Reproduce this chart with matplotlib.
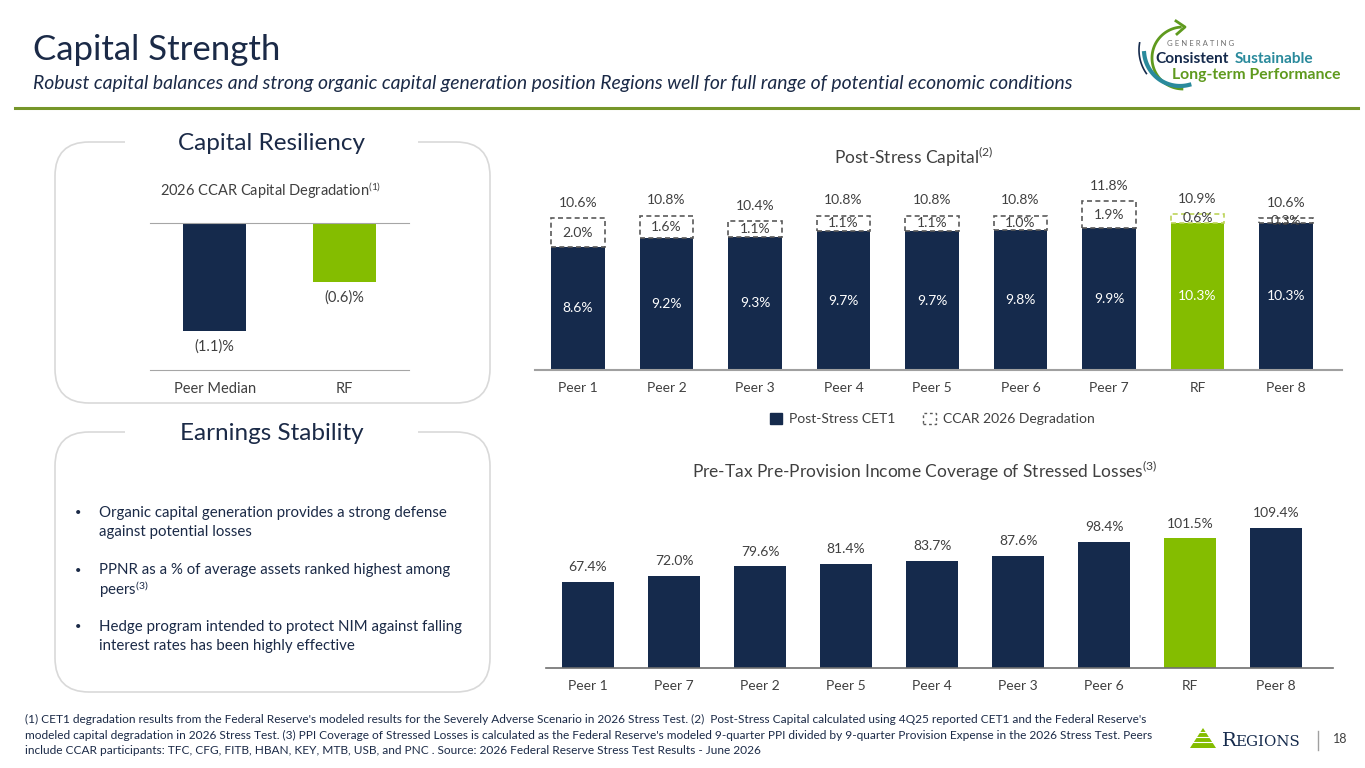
import numpy as np
import matplotlib
matplotlib.use("Agg")
import matplotlib.pyplot as plt
from matplotlib.patches import FancyBboxPatch, Rectangle, Patch, Polygon

plt.rcParams['font.family'] = ['Lato', 'DejaVu Sans']
plt.rcParams['mathtext.fontset'] = 'custom'
plt.rcParams['mathtext.rm'] = 'Lato'
plt.rcParams['mathtext.it'] = 'Lato:italic'
plt.rcParams['mathtext.bf'] = 'Lato:bold'

# ---- data ----
resil_cats = ['Peer Median', 'RF']
resil_vals = [-1.1, -0.6]

stress_cats = ['Peer 1', 'Peer 2', 'Peer 3', 'Peer 4', 'Peer 5', 'Peer 6', 'Peer 7', 'RF', 'Peer 8']
stress_cet1 = [8.6, 9.2, 9.3, 9.7, 9.7, 9.8, 9.9, 10.3, 10.3]
stress_degr = [2.0, 1.6, 1.1, 1.1, 1.1, 1.0, 1.9, 0.6, 0.3]
stress_total = [10.6, 10.8, 10.4, 10.8, 10.8, 10.8, 11.8, 10.9, 10.6]

ppi_cats = ['Peer 1', 'Peer 7', 'Peer 2', 'Peer 5', 'Peer 4', 'Peer 3', 'Peer 6', 'RF', 'Peer 8']
ppi_vals = [67.4, 72.0, 79.6, 81.4, 83.7, 87.6, 98.4, 101.5, 109.4]

bullets = [
    ['Organic capital generation provides a strong defense', 'against potential losses'],
    ['PPNR as a % of average assets ranked highest among', 'peers$^{(3)}$'],
    ['Hedge program intended to protect NIM against falling', 'interest rates has been highly effective'],
]

footnote = [
    "(1) CET1 degradation results from the Federal Reserve's modeled results for the Severely Adverse Scenario in 2026 Stress Test. (2)  Post-Stress Capital calculated using 4Q25 reported CET1 and the Federal Reserve's",
    "modeled capital degradation in 2026 Stress Test. (3) PPI Coverage of Stressed Losses is calculated as the Federal Reserve's modeled 9-quarter PPI divided by 9-quarter Provision Expense in the 2026 Stress Test. Peers",
    "include CCAR participants: TFC, CFG, FITB, HBAN, KEY, MTB, USB, and PNC . Source: 2026 Federal Reserve Stress Test Results - June 2026",
]

NAVY = '#152a4c'
GREEN = '#84bd00'
TEXT = '#1b2a47'
GREY = '#404040'

W, H = 1365, 768
fig = plt.figure(figsize=(W / 100, H / 100), dpi=100)

# background layer in pixel coordinates
bg = fig.add_axes([0, 0, 1, 1])
bg.set_xlim(0, W)
bg.set_ylim(H, 0)
bg.axis('off')


def px_axes(x0, y0, x1, y1):
    a = fig.add_axes([x0 / W, 1 - y1 / H, (x1 - x0) / W, (y1 - y0) / H])
    a.set_facecolor('none')
    return a


# header
bg.text(33, 50, 'Capital Strength', fontsize=25, color=TEXT, va='center')
bg.text(33, 84, 'Robust capital balances and strong organic capital generation position Regions well for full range of potential economic conditions',
        fontsize=13.95, style='italic', color=TEXT, va='center')
bg.plot([15, 1358], [108, 108], color='#76962a', lw=2.2)

# logo top right
t = np.radians(np.linspace(95, 268, 80))
bg.plot(1183 + 31 * np.cos(t), 58 - 31 * np.sin(t), color='#5f9a1e', lw=2)
bg.plot([1176, 1185, 1177], [21, 27, 34], color='#5f9a1e', lw=2)
t = np.radians(np.linspace(185, 285, 60))
bg.plot(1180 + 36 * np.cos(t), 50 - 36 * np.sin(t), color='#2a8a9c', lw=3)
t = np.radians(np.linspace(170, 215, 40))
bg.plot(1180 + 41 * np.cos(t), 50 - 41 * np.sin(t), color=NAVY, lw=1.2)
bg.text(1167, 44, 'G E N E R A T I N G', fontsize=5.6, color='#707070', va='center')
bg.text(1155, 59, 'Consistent', fontsize=11.1, weight='bold', color=NAVY, va='center')
bg.text(1313, 59, 'Sustainable', fontsize=11.1, weight='bold', color='#2a8a9c', va='center', ha='right')
bg.text(1341, 75, 'Long-term Performance', fontsize=11.3, weight='bold', color='#5f9a1e', va='center', ha='right')

# rounded panels
for top, bottom, title in [(142, 403, 'Capital Resiliency'), (432, 692, 'Earnings Stability')]:
    bg.add_patch(FancyBboxPatch((55, top), 435, bottom - top,
                                boxstyle='round,pad=0,rounding_size=34',
                                facecolor='none', edgecolor='#d9d9d9', lw=1.2))
    bg.add_patch(Rectangle((125, top - 6), 293, 12, facecolor='white', edgecolor='none', zorder=3))
    bg.text(272, top + 2, title, fontsize=17.5, color=TEXT, ha='center', va='center', zorder=4)

bg.text(271, 190, '2026 CCAR Capital Degradation$^{(1)}$', fontsize=10.5, color=GREY, ha='center', va='center')

for i, lines in enumerate(bullets):
    y = 513 + i * 57
    bg.text(75, y, '•', fontsize=8, color=TEXT, va='center')
    for j, line in enumerate(lines):
        bg.text(99, y + j * 19, line, fontsize=10.8, color=TEXT, va='center')

# ---- capital degradation chart ----
ax1 = px_axes(150, 223, 409, 370)
ax1.bar(range(2), resil_vals, width=0.485, color=[NAVY, GREEN])
for i, v in enumerate(resil_vals):
    ax1.annotate(f'({abs(v):.1f})%', (i, v), xytext=(0, -11), textcoords='offset points',
                 ha='center', va='center', fontsize=10.5, color=GREY)
ax1.set_xlim(-0.5, 1.5)
ax1.set_ylim(-1.5, 0)
ax1.set_xticks(range(2))
ax1.set_xticklabels(resil_cats, fontsize=10.5, color=GREY)
ax1.set_yticks([])
ax1.tick_params(axis='x', length=0, pad=9)
for s in ['left', 'right']:
    ax1.spines[s].set_visible(False)
for s in ['top', 'bottom']:
    ax1.spines[s].set_color('#a6a6a6')

# ---- post-stress capital chart ----
ax2 = px_axes(535, 140, 1342, 370)
x = np.arange(len(stress_cats))
cols = [GREEN if c == 'RF' else NAVY for c in stress_cats]
edges = ['#bcd35a' if c == 'RF' else '#5a5a5a' for c in stress_cats]
ax2.bar(x, stress_cet1, width=0.6, color=cols, zorder=2)
ax2.bar(x, stress_degr, bottom=stress_cet1, width=0.6, facecolor='white',
        edgecolor=edges, linestyle=(0, (3, 2)), linewidth=1.2, zorder=3)
for i in x:
    ax2.text(i, stress_cet1[i] / 2, f'{stress_cet1[i]:.1f}%', ha='center', va='center',
             fontsize=10, color='white', zorder=4)
    ax2.text(i, stress_cet1[i] + stress_degr[i] / 2, f'{stress_degr[i]:.1f}%', ha='center',
             va='center', fontsize=10, color=GREY, zorder=4)
    ax2.annotate(f'{stress_total[i]:.1f}%', (i, stress_cet1[i] + stress_degr[i]), xytext=(0, 11),
                 textcoords='offset points', ha='center', va='center', fontsize=10, color=GREY)
ax2.set_xlim(-0.486, 8.633)
ax2.set_ylim(0, 16.08)
ax2.set_xticks(x)
ax2.set_xticklabels(stress_cats, fontsize=10, color=GREY)
ax2.set_yticks([])
ax2.tick_params(axis='x', length=0, pad=9)
for s in ['left', 'right', 'top']:
    ax2.spines[s].set_visible(False)
ax2.spines['bottom'].set_color('#a0a0a0')
ax2.spines['bottom'].set_linewidth(1.5)
handles = [Patch(facecolor=NAVY, edgecolor=NAVY),
           Patch(facecolor='white', edgecolor='#5a5a5a', linestyle=(0, (2, 2)))]
ax2.legend(handles, ['Post-Stress CET1', 'CCAR 2026 Degradation'], loc='center',
           bbox_to_anchor=(932 / W, 1 - 419 / H), bbox_transform=fig.transFigure, ncol=2,
           frameon=False, handlelength=0.9, handleheight=0.9, handletextpad=0.5,
           columnspacing=2.0, fontsize=10, labelcolor=GREY)
bg.text(914, 157, 'Post-Stress Capital$^{(2)}$', fontsize=12.5, color=GREY, ha='center', va='center')

# ---- PPI coverage chart ----
ax3 = px_axes(546, 490, 1333, 668)
x = np.arange(len(ppi_cats))
cols = [GREEN if c == 'RF' else NAVY for c in ppi_cats]
ax3.bar(x, ppi_vals, width=0.6, color=cols)
for i in x:
    ax3.annotate(f'{ppi_vals[i]:.1f}%', (i, ppi_vals[i]), xytext=(0, 10.5),
                 textcoords='offset points', ha='center', va='center', fontsize=10, color=GREY)
ax3.set_xlim(-0.488, 8.66)
ax3.set_ylim(0, 139.1)
ax3.set_xticks(x)
ax3.set_xticklabels(ppi_cats, fontsize=10, color=GREY)
ax3.set_yticks([])
ax3.tick_params(axis='x', length=0, pad=9)
for s in ['left', 'right', 'top']:
    ax3.spines[s].set_visible(False)
ax3.spines['bottom'].set_color('#6f6f6f')
ax3.spines['bottom'].set_linewidth(1.2)
bg.text(925, 471, 'Pre-Tax Pre-Provision Income Coverage of Stressed Losses$^{(3)}$',
        fontsize=12.5, color=GREY, ha='center', va='center')

# footnote
for i, line in enumerate(footnote):
    bg.text(25, 719 + i * 16, line, fontsize=8.6, color=TEXT, va='center')

# Regions logo bottom right
bg.add_patch(Polygon([[1190, 748], [1203, 728], [1216, 748]], closed=True, facecolor='#84bd00', edgecolor='none'))
for k in range(3):
    yy = 742 - k * 5
    bg.plot([1190, 1216], [yy, yy], color='white', lw=0.8)
bg.text(1222, 741, 'R', fontsize=14, family='DejaVu Serif', color=NAVY, va='center')
bg.text(1235, 742, 'EGIONS', fontsize=10.8, family='DejaVu Serif', color=NAVY, va='center')
bg.plot([1318, 1318], [731, 750], color='#a0a0a0', lw=1)
bg.text(1340, 739, '18', fontsize=9, color=GREY, va='center', ha='center')

fig.savefig('out.png', dpi=100)
